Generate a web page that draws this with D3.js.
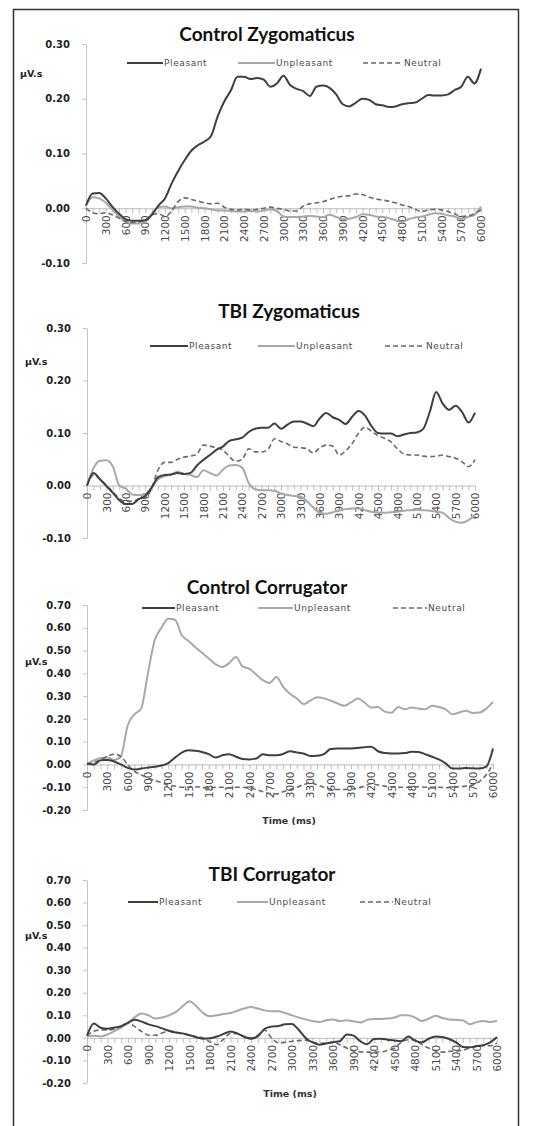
<!DOCTYPE html>
<html>
<head>
<meta charset="utf-8">
<script src="https://cdn.jsdelivr.net/npm/d3@7"></script>
<style>
  body { margin: 0; background: #fff; }
  svg { display: block; }
</style>
</head>
<body>
<div id="chart-container"></div>
<script>
// Time categories (ms), one reading every 100 ms
const times = [0,100,200,300,400,500,600,700,800,900,1000,1100,1200,1300,1400,1500,1600,1700,1800,1900,2000,
  2100,2200,2300,2400,2500,2600,2700,2800,2900,3000,3100,3200,3300,3400,3500,3600,3700,3800,3900,4000,
  4100,4200,4300,4400,4500,4600,4700,4800,4900,5000,5100,5200,5300,5400,5500,5600,5700,5800,5900,6000];
const timeLabels = [0,300,600,900,1200,1500,1800,2100,2400,2700,3000,3300,3600,3900,4200,4500,4800,5100,5400,5700,6000];
const seriesNames = ['Pleasant', 'Unpleasant', 'Neutral'];

// Control Zygomaticus
const ctrlZygPleasant = [0.005,0.027,0.028,0.018,0.003,-0.01,-0.02,-0.023,-0.023,-0.022,-0.012,0.005,0.018,0.045,0.068,0.088,0.105,0.115,0.122,0.132,0.168,
  0.195,0.215,0.24,0.24,0.236,0.238,0.235,0.222,0.228,0.242,0.225,0.218,0.214,0.205,0.222,0.224,0.22,0.208,0.19,0.186,
  0.193,0.2,0.198,0.19,0.188,0.185,0.186,0.19,0.192,0.193,0.2,0.207,0.206,0.206,0.208,0.216,0.222,0.24,0.228,0.255];
const ctrlZygUnpleasant = [0.005,0.02,0.018,0.01,-0.002,-0.015,-0.024,-0.028,-0.028,-0.025,-0.01,0.002,0.003,0.0,0.002,0.003,0.003,0.001,0.0,-0.002,-0.004,
  -0.004,-0.005,-0.006,-0.006,-0.005,-0.006,-0.004,-0.002,-0.005,-0.015,-0.016,-0.016,-0.015,-0.014,-0.015,-0.016,-0.012,-0.016,-0.02,-0.019,
  -0.016,-0.011,-0.012,-0.015,-0.016,-0.018,-0.022,-0.025,-0.02,-0.017,-0.015,-0.012,-0.009,-0.01,-0.013,-0.015,-0.02,-0.016,-0.012,0.003];
const ctrlZygNeutral = [0.0,-0.008,-0.01,-0.008,-0.012,-0.018,-0.024,-0.026,-0.025,-0.022,-0.012,-0.01,-0.015,-0.005,0.012,0.019,0.016,0.013,0.01,0.008,0.009,
  0.002,-0.002,-0.003,-0.002,-0.003,-0.002,0.0,0.002,0.0,-0.002,-0.005,-0.005,0.004,0.008,0.01,0.012,0.016,0.02,0.022,0.023,
  0.026,0.025,0.02,0.017,0.015,0.013,0.01,0.006,0.003,-0.002,-0.006,-0.003,-0.002,-0.003,-0.006,-0.01,-0.015,-0.014,-0.01,-0.003];

// TBI Zygomaticus
const tbiZygPleasant = [0.0,0.024,0.012,-0.001,-0.014,-0.028,-0.035,-0.035,-0.026,-0.02,-0.004,0.016,0.02,0.021,0.024,0.022,0.024,0.038,0.049,0.058,0.068,
  0.074,0.085,0.088,0.091,0.102,0.108,0.11,0.11,0.118,0.108,0.116,0.122,0.122,0.118,0.113,0.128,0.138,0.13,0.125,0.117,
  0.131,0.142,0.133,0.113,0.1,0.099,0.099,0.094,0.097,0.1,0.101,0.108,0.14,0.178,0.156,0.144,0.152,0.14,0.12,0.139];
const tbiZygUnpleasant = [0.0,0.033,0.047,0.048,0.036,0.0,-0.006,-0.017,-0.018,-0.017,-0.004,0.012,0.018,0.021,0.026,0.022,0.02,0.016,0.029,0.024,0.019,
  0.03,0.038,0.039,0.034,0.005,-0.007,-0.009,-0.009,-0.01,-0.015,-0.018,-0.02,-0.021,-0.03,-0.042,-0.052,-0.054,-0.051,-0.047,-0.045,
  -0.044,-0.044,-0.047,-0.05,-0.052,-0.052,-0.051,-0.05,-0.048,-0.047,-0.046,-0.047,-0.048,-0.05,-0.052,-0.062,-0.069,-0.071,-0.066,-0.056];
const tbiZygNeutral = [0.0,0.02,0.012,0.0,-0.012,-0.025,-0.03,-0.03,-0.026,-0.024,-0.005,0.03,0.044,0.044,0.05,0.054,0.056,0.06,0.077,0.075,0.072,
  0.068,0.055,0.046,0.05,0.07,0.064,0.064,0.069,0.089,0.084,0.079,0.073,0.072,0.07,0.062,0.072,0.077,0.075,0.058,0.066,
  0.08,0.1,0.111,0.103,0.095,0.09,0.083,0.07,0.06,0.058,0.058,0.056,0.055,0.056,0.058,0.055,0.052,0.045,0.036,0.049];

// Control Corrugator
const ctrlCorPleasant = [0.004,0.0,0.018,0.02,0.013,0.0,-0.015,-0.022,-0.018,-0.014,-0.01,-0.005,0.006,0.03,0.052,0.062,0.06,0.055,0.045,0.03,0.04,
  0.045,0.034,0.024,0.022,0.026,0.045,0.04,0.04,0.046,0.058,0.053,0.048,0.037,0.038,0.045,0.068,0.07,0.07,0.07,0.072,
  0.076,0.078,0.058,0.05,0.048,0.048,0.05,0.056,0.055,0.045,0.034,0.022,0.005,-0.018,-0.018,-0.016,-0.017,-0.018,-0.01,0.07];
const ctrlCorUnpleasant = [0.003,0.018,0.028,0.03,0.02,0.035,0.17,0.22,0.245,0.4,0.545,0.6,0.64,0.635,0.568,0.542,0.515,0.49,0.465,0.44,0.428,
  0.445,0.472,0.43,0.42,0.395,0.37,0.358,0.384,0.34,0.31,0.29,0.265,0.28,0.295,0.29,0.28,0.268,0.258,0.272,0.29,
  0.272,0.25,0.252,0.232,0.227,0.252,0.242,0.25,0.245,0.242,0.258,0.252,0.242,0.22,0.228,0.236,0.226,0.228,0.245,0.275];
const ctrlCorNeutral = [0.0,0.01,0.02,0.035,0.045,0.035,0.0,-0.03,-0.045,-0.06,-0.07,-0.08,-0.09,-0.095,-0.1,-0.1,-0.098,-0.1,-0.105,-0.1,-0.1,
  -0.102,-0.1,-0.1,-0.105,-0.11,-0.12,-0.128,-0.13,-0.12,-0.11,-0.1,-0.09,-0.08,-0.09,-0.1,-0.108,-0.11,-0.11,-0.108,-0.104,
  -0.095,-0.085,-0.09,-0.095,-0.098,-0.1,-0.1,-0.1,-0.098,-0.1,-0.1,-0.1,-0.102,-0.1,-0.098,-0.095,-0.09,-0.075,-0.045,0.0];

// TBI Corrugator
const tbiCorPleasant = [0.01,0.064,0.045,0.04,0.046,0.052,0.068,0.08,0.072,0.06,0.052,0.042,0.032,0.024,0.02,0.012,0.003,-0.004,-0.002,0.006,0.018,
  0.028,0.02,0.005,-0.004,0.008,0.04,0.05,0.053,0.06,0.062,0.035,0.0,-0.02,-0.03,-0.025,-0.019,-0.015,0.015,0.01,-0.015,
  -0.028,-0.005,-0.004,-0.008,-0.012,-0.015,0.006,-0.012,-0.02,-0.004,0.006,0.004,-0.005,-0.02,-0.04,-0.042,-0.036,-0.032,-0.02,0.004];
const tbiCorUnpleasant = [0.007,0.01,0.006,0.015,0.03,0.046,0.065,0.092,0.108,0.1,0.086,0.09,0.1,0.115,0.14,0.162,0.14,0.11,0.096,0.1,0.106,
  0.11,0.12,0.13,0.137,0.13,0.122,0.118,0.118,0.11,0.1,0.09,0.082,0.075,0.07,0.078,0.082,0.075,0.078,0.074,0.068,
  0.08,0.084,0.084,0.086,0.09,0.1,0.1,0.09,0.075,0.085,0.098,0.088,0.082,0.08,0.078,0.06,0.07,0.075,0.07,0.076];
const tbiCorNeutral = [0.01,0.03,0.035,0.035,0.04,0.05,0.065,0.05,0.028,0.012,0.012,0.022,0.03,0.025,0.018,0.012,0.006,0.0,-0.018,-0.03,-0.005,
  0.02,0.018,0.006,0.0,0.012,0.035,0.0,-0.022,-0.02,-0.015,-0.012,-0.01,-0.018,-0.025,-0.022,-0.02,-0.03,-0.045,-0.058,-0.062,
  -0.063,-0.063,-0.062,-0.055,-0.045,-0.02,-0.008,-0.01,-0.03,-0.045,-0.058,-0.063,-0.06,-0.058,-0.055,-0.045,-0.038,-0.035,-0.035,-0.022];

const zygTicks = [-0.10, 0.00, 0.10, 0.20, 0.30];
const corTicks = [-0.20, -0.10, 0.00, 0.10, 0.20, 0.30, 0.40, 0.50, 0.60, 0.70];

const width = 549;
const height = 1126;

// layout of each panel (pixels)
const panels = [
  { title: 'Control Zygomaticus', series: [ctrlZygPleasant, ctrlZygUnpleasant, ctrlZygNeutral], ticks: zygTicks,
    x0: 86, x1: 481, yTop: 44, yBot: 263, titleX: 267, titleY: 41, unitX: 20, unitY: 77,
    legendY: 63, legend: [[127, 163], [238, 275], [363, 403]], timeLabel: false },
  { title: 'TBI Zygomaticus', series: [tbiZygPleasant, tbiZygUnpleasant, tbiZygNeutral], ticks: zygTicks,
    x0: 87, x1: 475, yTop: 328, yBot: 538, titleX: 289, titleY: 318, unitX: 25, unitY: 365,
    legendY: 346, legend: [[150, 188], [258, 295], [385, 425]], timeLabel: false },
  { title: 'Control Corrugator', series: [ctrlCorPleasant, ctrlCorUnpleasant, ctrlCorNeutral], ticks: corTicks,
    x0: 87, x1: 493, yTop: 605, yBot: 810, titleX: 267, titleY: 594, unitX: 25, unitY: 665,
    legendY: 608, legend: [[142, 175], [258, 293], [393, 427]], timeLabel: true, timeY: 824, timeX: 289 },
  { title: 'TBI Corrugator', series: [tbiCorPleasant, tbiCorUnpleasant, tbiCorNeutral], ticks: corTicks,
    x0: 87, x1: 497, yTop: 880, yBot: 1083, titleX: 272, titleY: 881, unitX: 25, unitY: 939,
    legendY: 902, legend: [[128, 158], [237, 268], [360, 393]], timeLabel: true, timeY: 1097, timeX: 290 }
];

const styles = [
  { color: '#3f3f3f', width: 2, dash: null },
  { color: '#a8a8a8', width: 2, dash: null },
  { color: '#6a6a6a', width: 1.6, dash: '5,3' }
];

const svg = d3.select('#chart-container')
  .append('svg')
  .attr('width', width)
  .attr('height', height);

// outer frame
svg.append('rect')
  .attr('x', 13.5).attr('y', 9.5)
  .attr('width', 505).attr('height', 1130)
  .attr('fill', 'none')
  .attr('stroke', '#333')
  .attr('stroke-width', 1.5);

panels.forEach((p) => {
  const g = svg.append('g');
  const x = d3.scaleLinear().domain([0, 6000]).range([p.x0, p.x1]);
  const y = d3.scaleLinear()
    .domain([d3.min(p.ticks), d3.max(p.ticks)])
    .range([p.yBot, p.yTop]);

  // title
  g.append('text')
    .attr('x', p.titleX).attr('y', p.titleY)
    .attr('text-anchor', 'middle')
    .style('font-family', 'Lato, "Open Sans", sans-serif')
    .style('font-weight', 'bold')
    .style('font-size', '19px')
    .attr('fill', '#111')
    .text(p.title);

  // y axis
  const yAxis = d3.axisLeft(y)
    .tickValues(p.ticks)
    .tickFormat((d) => d.toFixed(2))
    .tickSize(4)
    .tickSizeOuter(0);
  const ya = g.append('g')
    .attr('transform', `translate(${p.x0},0)`)
    .call(yAxis);
  ya.select('.domain').attr('stroke', '#c4c4c4');
  ya.selectAll('.tick line').attr('stroke', '#c4c4c4');
  ya.selectAll('.tick text')
    .attr('x', -16)
    .style('font-family', '"DejaVu Sans", sans-serif')
    .style('font-weight', 'bold')
    .style('font-size', '10px')
    .attr('fill', '#222');

  // unit label
  g.append('text')
    .attr('x', p.unitX).attr('y', p.unitY)
    .style('font-family', '"DejaVu Sans", sans-serif')
    .style('font-weight', 'bold')
    .style('font-size', '9.5px')
    .attr('fill', '#222')
    .text('µV.s');

  // x axis at zero
  const xAxis = d3.axisBottom(x)
    .tickValues(times)
    .tickFormat((d) => (timeLabels.includes(d) ? d : ''))
    .tickSize(5)
    .tickSizeOuter(0);
  const xa = g.append('g')
    .attr('transform', `translate(0,${y(0)})`)
    .call(xAxis);
  xa.select('.domain').attr('stroke', '#bdbdbd');
  xa.selectAll('.tick line').attr('stroke', '#bdbdbd');
  xa.selectAll('.tick text')
    .attr('x', -7)
    .attr('y', 0)
    .attr('dy', '0.35em')
    .attr('transform', 'rotate(-90)')
    .style('text-anchor', 'end')
    .style('font-family', '"DejaVu Sans", sans-serif')
    .style('font-size', '10.5px')
    .attr('fill', '#4a4a4a');

  // series lines
  const line = d3.line()
    .x((d, i) => x(times[i]))
    .y((d) => y(d))
    .curve(d3.curveMonotoneX);

  [1, 2, 0].forEach((k) => {
    g.append('path')
      .datum(p.series[k])
      .attr('fill', 'none')
      .attr('stroke', styles[k].color)
      .attr('stroke-width', styles[k].width)
      .attr('stroke-dasharray', styles[k].dash)
      .attr('stroke-linejoin', 'round')
      .attr('d', line);
  });

  // legend
  seriesNames.forEach((name, k) => {
    const [lx0, lx1] = p.legend[k];
    g.append('line')
      .attr('x1', lx0).attr('x2', lx1)
      .attr('y1', p.legendY).attr('y2', p.legendY)
      .attr('stroke', styles[k].color)
      .attr('stroke-width', styles[k].width)
      .attr('stroke-dasharray', styles[k].dash);
    g.append('text')
      .attr('x', lx1 + 1).attr('y', p.legendY)
      .attr('dy', '0.35em')
      .style('font-family', '"DejaVu Sans", sans-serif')
      .style('font-size', '9px')
      .style('letter-spacing', '0.6px')
      .attr('fill', '#4a4a4a')
      .text(name);
  });

  if (p.timeLabel) {
    g.append('text')
      .attr('x', p.timeX).attr('y', p.timeY)
      .attr('text-anchor', 'middle')
      .style('font-family', '"DejaVu Sans", sans-serif')
      .style('font-weight', 'bold')
      .style('font-size', '9.5px')
      .attr('fill', '#333')
      .text('Time (ms)');
  }
});
</script>
</body>
</html>
